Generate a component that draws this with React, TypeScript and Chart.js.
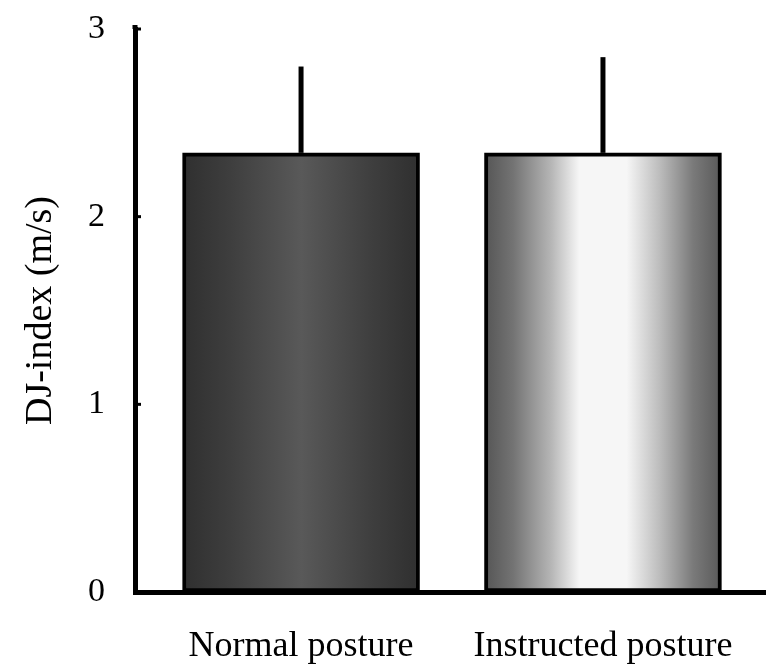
import React, { useEffect, useRef } from "react";
import { Chart, registerables } from "chart.js";

Chart.register(...registerables);

// Group names, their slot on the x axis, means and standard deviations
const categories = ["Normal posture", "Instructed posture"];
const positions = [1, 2];
const means = [2.34, 2.34];
const sds = [0.46, 0.51];
const yTickValues = [0, 1, 2, 3];
const yTitle = "DJ-index (m/s)";

const SERIF = '"Liberation Serif", "Times New Roman", Times, serif';
const BAR_PX = 237;

// Horizontal shading of each bar: [offset, colour]
const barShades: [number, string][][] = [
  [
    [0, "#2f2f2f"],
    [0.2, "#3e3e3e"],
    [0.5, "#595959"],
    [0.8, "#3e3e3e"],
    [1, "#2f2f2f"],
  ],
  [
    [0, "#555555"],
    [0.12, "#737373"],
    [0.28, "#b5b5b5"],
    [0.4, "#f6f6f6"],
    [0.6, "#f6f6f6"],
    [0.74, "#bcbcbc"],
    [0.88, "#7a7a7a"],
    [1, "#595959"],
  ],
];

const errorBarsAndTicks = {
  id: "errorBarsAndTicks",
  afterDatasetsDraw(chart: any) {
    const { ctx, chartArea, scales } = chart;
    const xs = scales.x;
    const ys = scales.y;
    ctx.save();
    ctx.strokeStyle = "#000";
    ctx.lineCap = "butt";
    // standard-deviation whiskers, upward only
    ctx.lineWidth = 5;
    positions.forEach((p, i) => {
      const px = xs.getPixelForValue(p);
      ctx.beginPath();
      ctx.moveTo(px, ys.getPixelForValue(means[i]));
      ctx.lineTo(px, ys.getPixelForValue(means[i] + sds[i]));
      ctx.stroke();
    });
    // short inward tick marks on the y axis
    ctx.lineWidth = 3;
    yTickValues.slice(1).forEach((v) => {
      const py = ys.getPixelForValue(v);
      ctx.beginPath();
      ctx.moveTo(chartArea.left, py);
      ctx.lineTo(chartArea.left + 6, py);
      ctx.stroke();
    });
    // axis runs a little past the top tick
    ctx.lineWidth = 5;
    ctx.beginPath();
    ctx.moveTo(chartArea.left, chartArea.top);
    ctx.lineTo(chartArea.left, chartArea.top - 4);
    ctx.stroke();
    ctx.restore();
  },
};

export default function App() {
  const canvasRef = useRef<HTMLCanvasElement | null>(null);

  useEffect(() => {
    const canvas = canvasRef.current;
    if (!canvas) return;

    const chart = new Chart(canvas, {
      type: "bar",
      data: {
        datasets: [
          {
            data: positions.map((p, i) => ({ x: p, y: means[i] })),
            barThickness: BAR_PX,
            borderColor: "#000",
            borderWidth: 4,
            borderSkipped: false,
            backgroundColor: (c: any) => {
              const i = c.dataIndex;
              const chartRef = c.chart;
              if (i === undefined || !chartRef.chartArea) return "#555";
              const cx = chartRef.scales.x.getPixelForValue(positions[i]);
              const g = chartRef.ctx.createLinearGradient(cx - BAR_PX / 2, 0, cx + BAR_PX / 2, 0);
              barShades[i].forEach(([o, col]) => g.addColorStop(o, col));
              return g;
            },
          } as any,
        ],
      },
      options: {
        animation: false,
        responsive: false,
        devicePixelRatio: 1,
        layout: { padding: { top: 29, left: 0, right: 0, bottom: 0 } },
        plugins: {
          legend: { display: false },
          tooltip: { enabled: false },
        },
        scales: {
          x: {
            type: "linear",
            min: 0.45,
            max: 2.54,
            offset: false,
            grid: { display: false, drawTicks: false },
            border: { display: true, color: "#000", width: 5 },
            afterBuildTicks: (scale: any) => {
              scale.ticks = positions.map((p) => ({ value: p }));
            },
            afterFit: (scale: any) => {
              scale.height = 76;
              scale.paddingLeft = 0;
              scale.paddingRight = 0;
            },
            ticks: {
              color: "#000",
              padding: 33,
              font: { family: SERIF, size: 36 },
              callback: (v: any) => categories[positions.indexOf(Number(v))] ?? "",
            },
          },
          y: {
            type: "linear",
            min: 0,
            max: 3,
            grid: { display: false, drawTicks: false },
            border: { display: true, color: "#000", width: 5 },
            afterBuildTicks: (scale: any) => {
              scale.ticks = yTickValues.map((v) => ({ value: v }));
            },
            afterFit: (scale: any) => {
              scale.width = 135;
              scale.paddingTop = 0;
              scale.paddingBottom = 0;
            },
            ticks: {
              color: "#000",
              padding: 30,
              font: { family: SERIF, size: 34 },
            },
            title: {
              display: true,
              text: yTitle,
              color: "#000",
              padding: { top: 18, bottom: 0 },
              font: { family: SERIF, size: 38, weight: "normal" },
            },
          },
        },
      } as any,
      plugins: [errorBarsAndTicks],
    });

    return () => chart.destroy();
  }, []);

  return (
    <div
      style={{
        position: "absolute",
        left: 0,
        top: 0,
        width: 766,
        height: 668,
        background: "#fff",
      }}
    >
      <canvas ref={canvasRef} width={766} height={668} />
    </div>
  );
}
